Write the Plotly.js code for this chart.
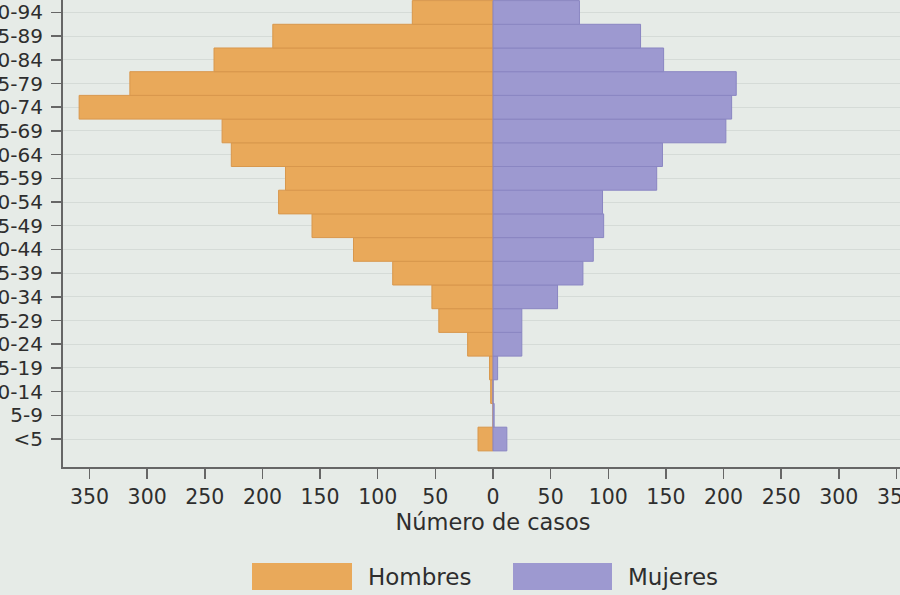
<!DOCTYPE html>
<html>
<head>
<meta charset="utf-8">
<script src="https://cdn.plot.ly/plotly-3.0.1.min.js"></script>
<style>
html, body { margin: 0; padding: 0; overflow: hidden; background: #e6ebe7; width: 900px; height: 595px; }
#chart { position: absolute; left: -60px; top: -60px; width: 1050px; height: 655px; }
</style>
</head>
<body>
<div id="chart"></div>
<script>
// Age groups (bottom to top)
const ageGroups = ["<5","5-9","10-14","15-19","20-24","25-29","30-34","35-39","40-44","45-49","50-54","55-59","60-64","65-69","70-74","75-79","80-84","85-89","90-94"];
// Number of cases
const hombres = [13, 0, 2, 3, 22, 47, 53, 87, 121, 157, 186, 180, 227, 235, 359, 315, 242, 191, 70];
const mujeres = [12, 1, 0, 4, 25, 25, 56, 78, 87, 96, 95, 142, 147, 202, 207, 211, 148, 128, 75];
// Axis ticks
const tickValues = [-350,-300,-250,-200,-150,-100,-50,0,50,100,150,200,250,300,350];
const tickLabels = tickValues.map(v => String(Math.abs(v)));
const seriesNames = ["Hombres", "Mujeres"];

const ORANGE = "#e9a95a", PURPLE = "#9d99d0";
const FONT = "DejaVu Sans, sans-serif";
const TXT = "#2e2e2e";

const traces = [
  {
    type: "bar", orientation: "h", name: seriesNames[0],
    y: ageGroups, x: hombres.map(v => -v),
    marker: { color: ORANGE, line: { color: "#d8974c", width: 1 } },
    hoverinfo: "skip"
  },
  {
    type: "bar", orientation: "h", name: seriesNames[1],
    y: ageGroups, x: mujeres,
    marker: { color: PURPLE, line: { color: "#8a86c2", width: 1 } },
    hoverinfo: "skip"
  }
];

// pixel helpers (page coords -> paper coords); plot area: x 63..923, y -16..467
const PL = 63, PW = 860, PB = 467, PH = 483;
const px = x => (x - PL) / PW;
const py = y => (PB - y) / PH;

const layout = {
  width: 1050, height: 655,
  margin: { l: 123, r: 67, t: 44, b: 128 },
  paper_bgcolor: "#e6ebe7",
  plot_bgcolor: "#e6ebe7",
  barmode: "relative",
  bargap: 0,
  showlegend: false,
  font: { family: FONT, color: TXT },
  xaxis: {
    range: [-373, 373],
    tickmode: "array", tickvals: tickValues, ticktext: tickLabels,
    ticks: "outside", ticklen: 10, tickwidth: 1.5, tickcolor: "#666",
    showline: true, linecolor: "#666", linewidth: 2,
    showgrid: false, zeroline: false,
    tickfont: { family: FONT, size: 20.5, color: TXT },
    title: { text: "Número de casos", font: { family: FONT, size: 22.5, color: TXT }, standoff: 2 }
  },
  yaxis: {
    type: "category",
    range: [-1.18, 19.2],
    tickmode: "array", tickvals: ageGroups, ticktext: ageGroups,
    ticks: "outside", ticklen: 10, tickwidth: 1.5, tickcolor: "#666",
    showline: true, linecolor: "#666", linewidth: 2,
    showgrid: true, gridcolor: "#d5dbd7", gridwidth: 1,
    zeroline: false,
    tickfont: { family: FONT, size: 20, color: TXT },
    ticklabelstandoff: 4
  },
  shapes: [
    { type: "rect", xref: "paper", yref: "paper", x0: px(252), x1: px(352), y0: py(590), y1: py(563),
      fillcolor: ORANGE, line: { width: 0 } },
    { type: "rect", xref: "paper", yref: "paper", x0: px(513), x1: px(612), y0: py(590), y1: py(563),
      fillcolor: PURPLE, line: { width: 0 } }
  ],
  annotations: [
    { xref: "paper", yref: "paper", x: px(366), y: py(577), xanchor: "left", yanchor: "middle",
      text: seriesNames[0], showarrow: false, font: { family: FONT, size: 23, color: TXT } },
    { xref: "paper", yref: "paper", x: px(626), y: py(577), xanchor: "left", yanchor: "middle",
      text: seriesNames[1], showarrow: false, font: { family: FONT, size: 23, color: TXT } }
  ]
};

Plotly.newPlot("chart", traces, layout, { displayModeBar: false, staticPlot: true });
</script>
</body>
</html>
